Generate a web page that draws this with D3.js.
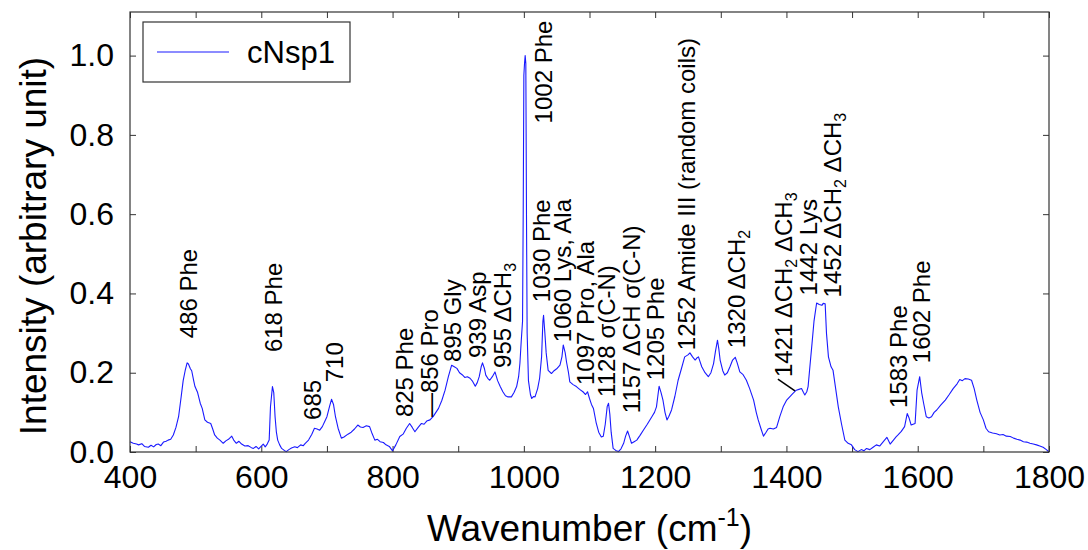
<!DOCTYPE html>
<html>
<head>
<meta charset="utf-8">
<script src="https://cdn.jsdelivr.net/npm/d3@7"></script>
<style>
  body { margin: 0; background: #fff; }
  text { font-family: "Liberation Sans", Arial, sans-serif; fill: #000; }
</style>
</head>
<body>
<div id="chart"></div>
<script>
// spectrum (wavenumber, intensity)
const wavenumbers = [400,405,410,413,418,422,428,432,436,440,443,447,451,455,458,462,466,470,474,478,481,484,487,489,492,494,497,499,503,507,510,514,518,523,526,529,533,537,542,546,550,555,558,562,566,570,575,580,585,588,592,596,600,603,606,609,612,614,617,619,621,623,625,628,631,635,638,642,646,651,655,660,664,667,672,677,681,685,689,693,697,700,704,707,710,713,717,722,726,732,737,742,747,751,755,760,765,768,773,777,781,786,790,795,800,805,811,816,821,826,830,834,839,844,848,852,857,862,866,870,875,880,885,890,894,898,902,906,910,914,918,922,926,929,932,935,937,940,942,945,948,952,956,960,964,968,972,976,981,985,989,992,994,996,998,999,1000,1001,1002,1003,1004,1005,1007,1010,1012,1015,1017,1021,1024,1027,1029,1030,1032,1034,1037,1042,1046,1050,1055,1058,1060,1063,1065,1068,1070,1075,1080,1085,1090,1094,1097,1100,1103,1106,1110,1114,1118,1121,1124,1127,1129,1131,1133,1136,1140,1144,1148,1152,1155,1158,1161,1164,1168,1172,1177,1182,1188,1195,1199,1202,1206,1209,1212,1215,1218,1221,1225,1230,1235,1240,1245,1250,1253,1257,1261,1264,1266,1268,1271,1276,1281,1285,1289,1292,1295,1297,1299,1303,1306,1310,1314,1318,1322,1325,1329,1334,1339,1344,1350,1354,1357,1361,1365,1369,1372,1375,1380,1385,1390,1395,1400,1405,1410,1415,1419,1423,1426,1428,1431,1433,1436,1439,1442,1446,1450,1454,1456,1459,1461,1464,1468,1471,1475,1479,1484,1489,1494,1499,1504,1509,1514,1518,1522,1527,1532,1537,1542,1547,1553,1558,1563,1567,1570,1575,1580,1584,1587,1590,1593,1596,1599,1603,1606,1609,1613,1617,1621,1625,1629,1635,1642,1648,1654,1660,1664,1668,1672,1677,1682,1686,1690,1695,1700,1704,1708,1714,1720,1725,1730,1735,1741,1746,1751,1756,1761,1766,1771,1776,1781,1786,1791,1796,1800];
const intensities = [0.026,0.022,0.02,0.018,0.021,0.014,0.012,0.017,0.013,0.019,0.02,0.016,0.025,0.027,0.03,0.032,0.043,0.062,0.089,0.14,0.18,0.205,0.225,0.222,0.21,0.205,0.18,0.165,0.15,0.123,0.11,0.081,0.075,0.072,0.058,0.043,0.035,0.03,0.022,0.028,0.032,0.04,0.03,0.022,0.027,0.02,0.015,0.016,0.011,0.009,0.014,0.008,0.015,0.02,0.013,0.02,0.03,0.114,0.165,0.15,0.089,0.05,0.03,0.018,0.009,0.004,0.001,0.006,0.01,0.013,0.011,0.018,0.016,0.022,0.03,0.045,0.06,0.058,0.055,0.064,0.078,0.089,0.115,0.133,0.12,0.089,0.06,0.035,0.038,0.045,0.05,0.058,0.068,0.063,0.062,0.066,0.064,0.05,0.03,0.032,0.026,0.024,0.018,0.014,0.003,0.018,0.039,0.045,0.06,0.072,0.062,0.051,0.062,0.072,0.07,0.078,0.081,0.09,0.1,0.11,0.13,0.156,0.19,0.219,0.215,0.211,0.2,0.195,0.188,0.19,0.186,0.178,0.166,0.175,0.19,0.215,0.225,0.21,0.194,0.186,0.181,0.19,0.202,0.18,0.165,0.152,0.142,0.139,0.139,0.15,0.165,0.19,0.224,0.28,0.33,0.6,0.95,0.98,1.0,0.98,0.6,0.3,0.18,0.145,0.135,0.14,0.139,0.16,0.186,0.24,0.33,0.345,0.3,0.25,0.206,0.198,0.205,0.21,0.219,0.24,0.27,0.25,0.227,0.2,0.177,0.17,0.165,0.158,0.152,0.145,0.152,0.135,0.12,0.11,0.075,0.05,0.038,0.04,0.07,0.115,0.123,0.095,0.05,0.009,0.004,0.001,0.008,0.022,0.04,0.053,0.038,0.022,0.026,0.03,0.042,0.055,0.07,0.089,0.1,0.114,0.166,0.15,0.13,0.1,0.081,0.09,0.106,0.14,0.181,0.21,0.24,0.245,0.25,0.24,0.232,0.238,0.24,0.23,0.215,0.2,0.19,0.2,0.223,0.255,0.282,0.26,0.232,0.205,0.194,0.2,0.215,0.232,0.239,0.225,0.202,0.195,0.181,0.16,0.131,0.1,0.081,0.06,0.04,0.05,0.058,0.06,0.058,0.062,0.09,0.114,0.13,0.139,0.148,0.156,0.158,0.16,0.15,0.144,0.152,0.165,0.22,0.274,0.33,0.376,0.372,0.37,0.375,0.374,0.3,0.24,0.215,0.206,0.16,0.114,0.07,0.03,0.022,0.018,0.006,0.001,0.006,0.003,0.009,0.006,0.012,0.018,0.015,0.025,0.037,0.02,0.03,0.038,0.043,0.052,0.064,0.097,0.085,0.068,0.07,0.072,0.156,0.19,0.15,0.123,0.089,0.086,0.089,0.1,0.106,0.118,0.131,0.145,0.16,0.172,0.183,0.18,0.185,0.184,0.181,0.16,0.131,0.1,0.081,0.06,0.051,0.048,0.046,0.043,0.044,0.04,0.039,0.035,0.032,0.03,0.026,0.025,0.022,0.02,0.018,0.015,0.012,0.006,0.0];

const xTicks = [400, 600, 800, 1000, 1200, 1400, 1600, 1800];
const xMinorTicks = [500, 700, 900, 1100, 1300, 1500, 1700];
const yTicks = [0, 0.2, 0.4, 0.6, 0.8, 1.0];
const seriesName = "cNsp1";

// peak labels: text parts (sub = subscript), anchored at (wavenumber, intensity)
const peakLabels = [
  { at: [502, 0.287], parts: [["486 Phe"]] },
  { at: [631.6, 0.252], parts: [["618 Phe"]] },
  { at: [691, 0.081], parts: [["685"]] },
  { at: [724.5, 0.176], parts: [["710"]] },
  { at: [831, 0.088], parts: [["825 Phe"]] },
  { at: [869, 0.088], parts: [["\u2014856 Pro"]] },
  { at: [904, 0.227], parts: [["895 Gly"]] },
  { at: [942, 0.237], parts: [["939 Asp"]] },
  { at: [980, 0.212], parts: [["955 \u0394CH"], ["3", "sub"]] },
  { at: [1043, 0.829], parts: [["1002 Phe"]] },
  { at: [1040, 0.378], parts: [["1030 Phe"]] },
  { at: [1072, 0.277], parts: [["1060 Lys, Ala"]] },
  { at: [1107, 0.169], parts: [["1097 Pro, Ala"]] },
  { at: [1139, 0.139], parts: [["1128 \u03C3(C-N)"]] },
  { at: [1177, 0.098], parts: [["1157 \u0394CH \u03C3(C-N)"]] },
  { at: [1213.5, 0.181], parts: [["1205 Phe"]] },
  { at: [1260.7, 0.257], parts: [["1252 Amide III (random coils)"]] },
  { at: [1336.6, 0.262], parts: [["1320 \u0394CH"], ["2", "sub"]] },
  { at: [1408.5, 0.189], parts: [["1421 \u0394CH"], ["2", "sub"], [" \u0394CH"], ["3", "sub"]] },
  { at: [1446.6, 0.395], parts: [["1442 Lys"]] },
  { at: [1483, 0.39], parts: [["1452 \u0394CH"], ["2", "sub"], [" \u0394CH"], ["3", "sub"]] },
  { at: [1583.7, 0.111], parts: [["1583 Phe"]] },
  { at: [1618.7, 0.224], parts: [["1602 Phe"]] }
];
// leader line for the 1421 label
const leader1421 = [[1387, 0.184], [1413, 0.154]];

const W = 1088, H = 550;
const margin = { top: 12, right: 39, bottom: 98, left: 130 };
const width = W - margin.left - margin.right;
const height = H - margin.top - margin.bottom;

const svg = d3.select("#chart")
  .append("svg")
  .attr("width", W)
  .attr("height", H);

const g = svg.append("g")
  .attr("transform", `translate(${margin.left}, ${margin.top})`);

const xScale = d3.scaleLinear().domain([400, 1800]).range([0, width]);
const yScale = d3.scaleLinear().domain([0, 1.11]).range([height, 0]);

const frameColor = "#333";

// axes with inward ticks
function styleAxis(sel) {
  sel.select(".domain").remove();
  sel.selectAll(".tick line").attr("stroke", frameColor);
  sel.selectAll(".tick text")
    .style("font-family", "Liberation Sans, Arial, sans-serif")
    .style("font-size", "32px")
    .attr("fill", "#000");
}

g.append("g")
  .attr("transform", `translate(0, ${height})`)
  .call(d3.axisBottom(xScale).tickValues(xTicks).tickSizeInner(-6).tickSizeOuter(0).tickPadding(13).tickFormat(d3.format("d")))
  .call(styleAxis);

g.append("g")
  .attr("transform", `translate(0, ${height})`)
  .call(d3.axisBottom(xScale).tickValues(xMinorTicks).tickSizeInner(-6).tickSizeOuter(0).tickFormat(""))
  .call(styleAxis);

g.append("g")
  .call(d3.axisTop(xScale).tickValues(xTicks.concat(xMinorTicks)).tickSizeInner(-6).tickSizeOuter(0).tickFormat(""))
  .call(styleAxis);

g.append("g")
  .call(d3.axisLeft(yScale).tickValues(yTicks).tickSizeInner(-6).tickSizeOuter(0).tickPadding(16).tickFormat(d3.format(".1f")))
  .call(styleAxis);

g.append("g")
  .attr("transform", `translate(${width}, 0)`)
  .call(d3.axisRight(yScale).tickValues(yTicks).tickSizeInner(-6).tickSizeOuter(0).tickFormat(""))
  .call(styleAxis);

// spectrum
const points = wavenumbers.map((w, i) => [w, intensities[i]]);
const line = d3.line()
  .x(d => xScale(d[0]))
  .y(d => yScale(d[1]));

g.append("path")
  .datum(points)
  .attr("fill", "none")
  .attr("stroke", "#1a1aff")
  .attr("stroke-width", 1.1)
  .attr("stroke-linejoin", "round")
  .attr("d", line);

// frame
g.append("rect")
  .attr("width", width)
  .attr("height", height)
  .attr("fill", "none")
  .attr("stroke", frameColor)
  .attr("stroke-width", 1.2);

// peak labels, rotated
peakLabels.forEach(lab => {
  const t = g.append("text")
    .attr("transform", `translate(${xScale(lab.at[0])}, ${yScale(lab.at[1])}) rotate(-90)`)
    .style("font-size", "24px");
  lab.parts.forEach((p, i) => {
    const ts = t.append("tspan").text(p[0]);
    if (p[1] === "sub") {
      ts.style("font-size", "16px").attr("dy", 5);
    } else if (i > 0) {
      ts.attr("dy", -5);
    }
  });
});

g.append("path")
  .datum(leader1421)
  .attr("fill", "none")
  .attr("stroke", "#000")
  .attr("stroke-width", 1.5)
  .attr("d", line);

// legend
const legend = g.append("g").attr("transform", "translate(13, 10)");
legend.append("rect")
  .attr("width", 207)
  .attr("height", 60)
  .attr("fill", "#fff")
  .attr("stroke", frameColor)
  .attr("stroke-width", 1.2);
legend.append("line")
  .attr("x1", 14).attr("x2", 86)
  .attr("y1", 30).attr("y2", 30)
  .attr("stroke", "#1a1aff")
  .attr("stroke-width", 1.1);
legend.append("text")
  .attr("x", 104)
  .attr("y", 41)
  .style("font-size", "31px")
  .text(seriesName);

// axis titles
const xTitle = svg.append("text")
  .attr("x", margin.left + width / 2)
  .attr("y", 541)
  .attr("text-anchor", "middle")
  .style("font-size", "37px");
xTitle.append("tspan").text("Wavenumber (cm");
xTitle.append("tspan").attr("dy", -15).style("font-size", "25px").text("-1");
xTitle.append("tspan").attr("dy", 15).text(")");

svg.append("text")
  .attr("transform", `translate(46, 246) rotate(-90)`)
  .attr("text-anchor", "middle")
  .style("font-size", "37px")
  .text("Intensity (arbitrary unit)");
</script>
</body>
</html>
